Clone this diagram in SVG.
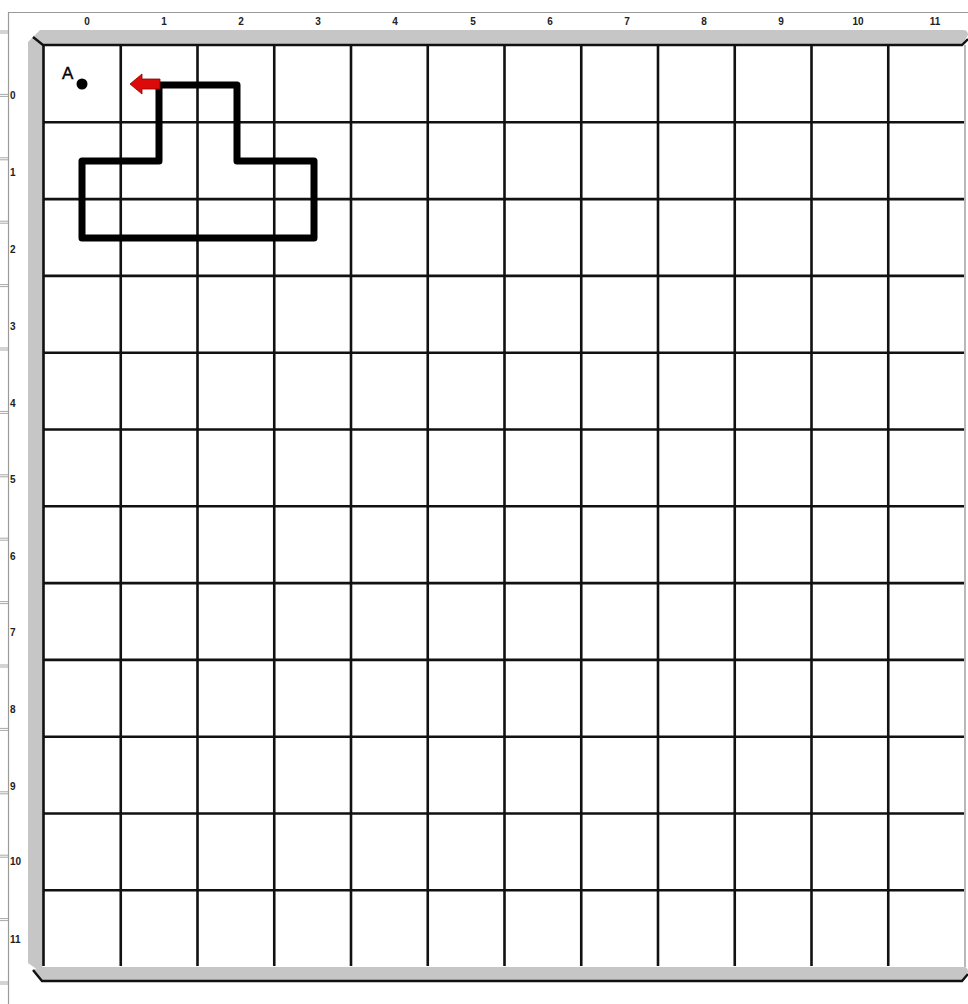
<svg xmlns="http://www.w3.org/2000/svg" width="968" height="1004" viewBox="0 0 968 1004">
<style>
.rl{font-family:"Liberation Sans",Arial,sans-serif;font-size:10px;font-weight:bold;fill:#222}
.tk{stroke:#a8a8a8;stroke-width:1}
.gl{stroke:#111;stroke-width:2.6}
.bar{fill:#c6c6c6}
.edge{fill:none;stroke:#111;stroke-width:2.4}
</style>
<rect width="968" height="1004" fill="#fff"/>
<g id="ruler">
<line x1="8" y1="12.5" x2="968" y2="12.5" stroke="#9a9a9a" stroke-width="1.2"/>
<line x1="8.5" y1="12" x2="8.5" y2="1004" stroke="#9a9a9a" stroke-width="1.2"/>
<g class="tk">
<path d="M0,31H8M0,33H8M0,94.4H8M0,96.4H8M0,157.8H8M0,159.8H8M0,221.2H8M0,223.2H8M0,284.6H8M0,286.6H8M0,348H8M0,350H8M0,411.4H8M0,413.4H8M0,474.8H8M0,476.8H8M0,538.2H8M0,540.2H8M0,601.6H8M0,603.6H8M0,665H8M0,667H8M0,728.4H8M0,730.4H8M0,791.8H8M0,793.8H8M0,855.2H8M0,857.2H8M0,918.6H8M0,920.6H8M0,982H8M0,984H8"/>
</g>
<g class="rl" text-anchor="middle">
<text x="87" y="25">0</text><text x="164" y="25">1</text><text x="241" y="25">2</text><text x="318" y="25">3</text>
<text x="395" y="25">4</text><text x="473" y="25">5</text><text x="550" y="25">6</text><text x="627" y="25">7</text>
<text x="704" y="25">8</text><text x="781" y="25">9</text><text x="858" y="25">10</text><text x="935" y="25">11</text>
</g>
<g class="rl">
<text x="10" y="99">0</text><text x="10" y="176">1</text><text x="10" y="253">2</text><text x="10" y="330">3</text>
<text x="10" y="407">4</text><text x="10" y="483">5</text><text x="10" y="560">6</text><text x="10" y="636">7</text>
<text x="10" y="713">8</text><text x="10" y="790">9</text><text x="10" y="865">10</text><text x="10" y="943">11</text>
</g>
</g>
<g id="frame">
<path class="bar" d="M33,37 L40,30 L963,30 Q968,30 968,35 L962,45 L43,45 Z"/>
<path class="bar" d="M28,42 L33,37 L43,45 L43,966 L38,970 L28,963 Z"/>
<path class="bar" d="M33,970 L40,967 L965,967 Q968,968 968,972 L962,981 L42,981 Z"/>
<path class="edge" d="M33,37 L43,45 L962,45 L968,39"/>
<path class="edge" d="M33,970 L42,981 L962,981 L968,974"/>
<line x1="965" y1="45" x2="965" y2="967" stroke="#a0a0a0" stroke-width="1.5"/>
</g>
<g id="grid" class="gl">
<path d="M43.5,45V966M120.75,45V966M197.5,45V966M274.25,45V966M351,45V966M427.75,45V966M504.5,45V966M581.25,45V966M658,45V966M734.75,45V966M811.5,45V966M888.25,45V966"/>
<path d="M43,122.3H964M43,199.1H964M43,275.9H964M43,352.7H964M43,429.5H964M43,506.3H964M43,583.1H964M43,659.9H964M43,736.7H964M43,813.5H964M43,890.3H964"/>
</g>
<g id="shape">
<path d="M159,85 H237 V161 H314 V238 H82 V161 H159 Z" fill="none" stroke="#000" stroke-width="7" stroke-linejoin="round"/>
</g>
<g id="arrow">
<path d="M130,84 L142,74 L142,79 L160,79 L160,89 L142,89 L142,94 Z" fill="#dd0a0a" stroke="#8a0000" stroke-width="0.8" stroke-linejoin="round"/>
</g>
<g id="pointA">
<circle cx="82" cy="84" r="5.5" fill="#000"/>
<text x="62" y="79" font-family="Liberation Sans, Arial, sans-serif" font-size="17" fill="#000" stroke="#000" stroke-width="0.4">A</text>
</g>
</svg>
